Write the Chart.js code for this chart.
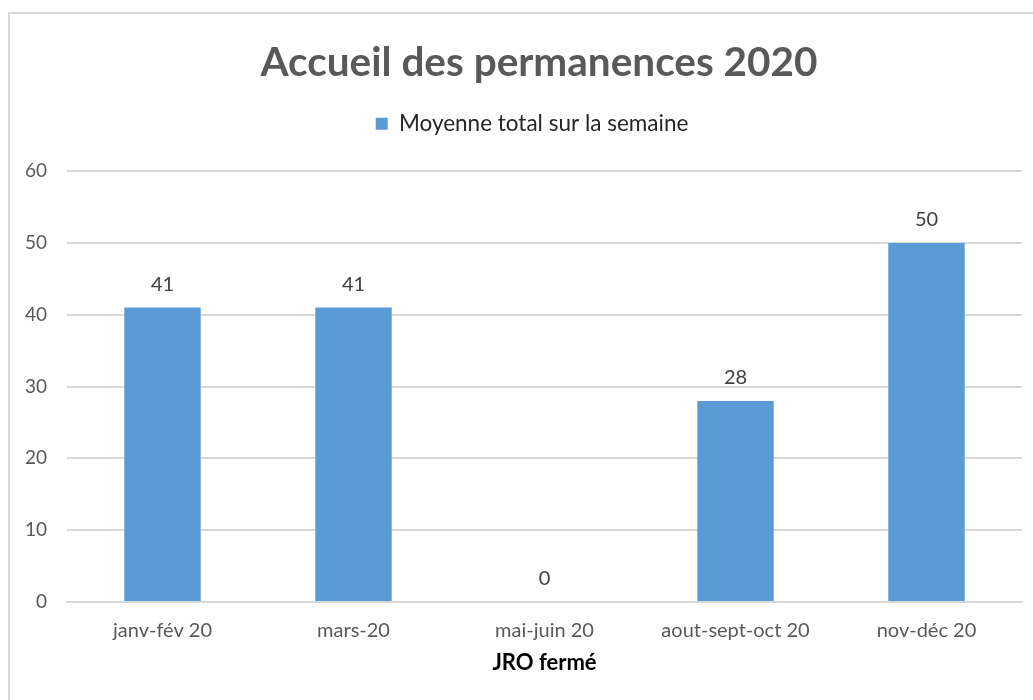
<!DOCTYPE html>
<html lang="fr">
<head>
  <meta charset="UTF-8" />
  <title>Accueil des permanences 2020</title>
  <script src="https://cdn.jsdelivr.net/npm/chart.js"></script>
  <style>
    * { box-sizing: border-box; }
    body { margin: 0; background: #fff; overflow: hidden; }
    #wrap { position: absolute; left: 0; top: 0; width: 1033px; height: 700px; }
    #frame {
      position: absolute; left: 8px; top: 12px; width: 1100px; height: 800px;
      border: 2px solid #d9d9d9; pointer-events: none;
    }
  </style>
</head>
<body>
  <div id="frame"></div>
  <div id="wrap"><canvas id="chart"></canvas></div>

  <script>
    const categories = ['janv-fév 20', 'mars-20', 'mai-juin 20', 'aout-sept-oct 20', 'nov-déc 20'];
    const moyenne = [41, 41, 0, 28, 50];
    const yTicks = [0, 10, 20, 30, 40, 50, 60];

    const FONT = 'Lato, "Open Sans", sans-serif';

    const labelsPlugin = {
      id: 'barLabels',
      afterInit(chart) {
        // leave some room between the legend and the plot, like Excel does
        const lg = chart.legend;
        const fit = lg.fit;
        lg.fit = function () { fit.call(this); this.height += 26; };
      },
      afterLayout(chart) {
        // Excel centres title + legend a bit more to the right
        chart.titleBlock.left = 56;
        chart.legend.left = 42;
      },
      // value labels above the bars
      afterDatasetsDraw(chart) {
        const ctx = chart.ctx;
        const meta = chart.getDatasetMeta(0);
        ctx.save();
        ctx.font = '20px ' + FONT;
        ctx.fillStyle = '#404040';
        ctx.textAlign = 'center';
        ctx.textBaseline = 'middle';
        meta.data.forEach((bar, i) => {
          ctx.fillText(String(moyenne[i]), bar.x, bar.y - 23);
        });
        ctx.restore();
      }
    };

    new Chart(document.getElementById('chart'), {
      type: 'bar',
      data: {
        labels: categories,
        datasets: [{
          label: 'Moyenne total sur la semaine',
          data: moyenne,
          backgroundColor: '#5b9bd5',
          barPercentage: 0.4,
          categoryPercentage: 1
        }]
      },
      options: {
        responsive: true,
        maintainAspectRatio: false,
        animation: false,
        layout: { padding: { left: 20, right: 11, top: 39, bottom: 0 } },
        plugins: {
          title: {
            display: true,
            text: 'Accueil des permanences 2020',
            color: '#595959',
            font: { family: FONT, size: 40.5, weight: 'bold' },
            padding: { top: 0, bottom: 15 }
          },
          legend: {
            labels: {
              color: '#262626',
              font: { family: FONT, size: 22.5 },
              boxWidth: 12, boxHeight: 12,
              padding: 10
            }
          },
          tooltip: { enabled: false }
        },
        scales: {
          x: {
            grid: { display: false, drawTicks: false },
            border: { color: '#d9d9d9', width: 2 },
            ticks: { color: '#595959', font: { family: FONT, size: 20 }, padding: 17 },
            title: {
              display: true,
              text: 'JRO fermé',
              color: '#000',
              font: { family: FONT, size: 22, weight: 'bold' },
              padding: { top: 0, bottom: 24 }
            },
            afterFit(axis) { axis.height = 98; }
          },
          y: {
            min: 0, max: 60,
            afterBuildTicks(axis) { axis.ticks = yTicks.map(v => ({ value: v })); },
            grid: { color: '#d9d9d9', lineWidth: 2, drawTicks: false },
            border: { display: false },
            ticks: { color: '#595959', font: { family: FONT, size: 19 }, padding: 20 },
            afterFit(axis) { axis.width = 47; }
          }
        }
      },
      plugins: [labelsPlugin]
    });
  </script>
</body>
</html>
